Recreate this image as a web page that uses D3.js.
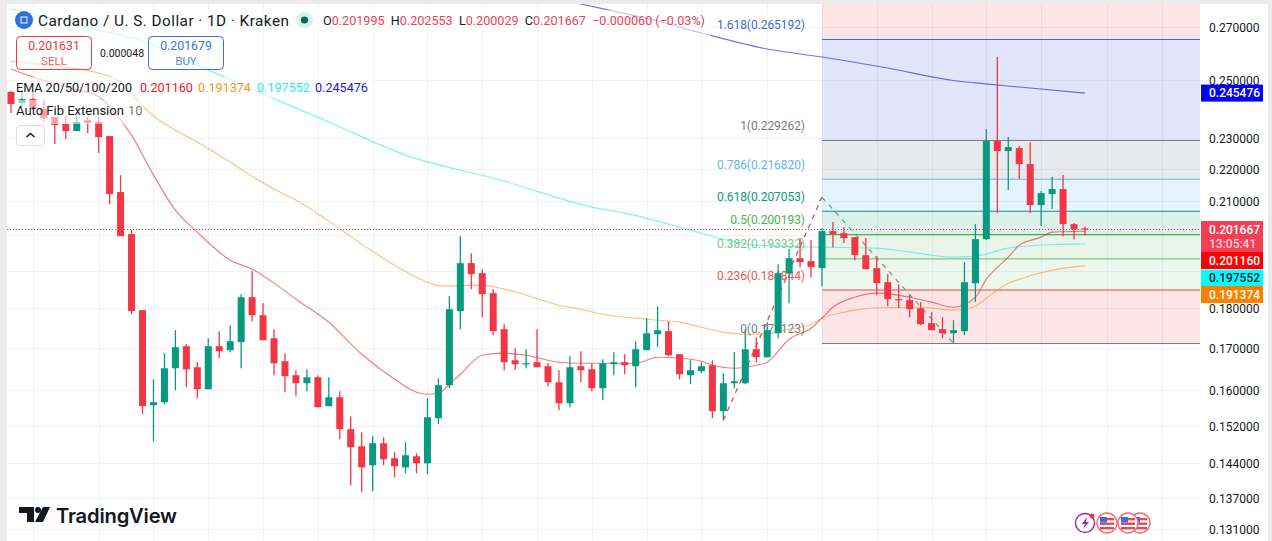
<!DOCTYPE html>
<html><head><meta charset="utf-8">
<script src="https://cdnjs.cloudflare.com/ajax/libs/d3/7.8.5/d3.min.js"></script>
<style>html,body{margin:0;padding:0;background:#ebebeb;overflow:hidden}svg{display:block}text{font-family:Roboto,sans-serif}</style>
</head><body><svg id="c" width="1272" height="541"></svg>
<script>
const opens=[.24586,.24199,.24338,.2399,.23714,.23477,.23241,.23612,.23545,.23074,.21284,.20034,.17955,.15657,.15725,.16514,.17047,.16538,.16022,.17047,.16949,.17146,.18294,.17826,.17244,.16682,.16348,.16161,.16301,.15635,.15838,.15125,.14758,.1436,.14823,.14505,.14318,.14547,.14401,.15366,.16115,.17929,.19214,.18939,.184,.1747,.16706,.1661,.16658,.16562,.16184,.15702,.16562,.1649,.16045,.1661,.16658,.16562,.16949,.17344,.1742,.16851,.16348,.16443,.16586,.15522,.16161,.16161,.16973,.16778,.17369,.18939,.19352,.1927,.19076,.20121,.20063,.19947,.19436,.19076,.18694,.18242,.18216,.18006,.17622,.1747,.17369,.1742,.18668,.1989,.22908,.2258,.22678,.22161,.20889,.21223,.21377,.20325,.201995];
const highs=[.24621,.24657,.24586,.24303,.23714,.23749,.23749,.23714,.23714,.23074,.21812,.2015,.17955,.16254,.16876,.17445,.17096,.16658,.17244,.1742,.17571,.18374,.18993,.18137,.1747,.16876,.16467,.1649,.16348,.16301,.15976,.1541,.1506,.14973,.14951,.14632,.14844,.14611,.15815,.16278,.18321,.19976,.19493,.19048,.18507,.17596,.16998,.16973,.1747,.16634,.16467,.16802,.16924,.16634,.1673,.169,.16851,.1717,.17749,.18058,.17672,.16851,.16706,.16658,.16706,.16396,.169,.1747,.17269,.17647,.19186,.19606,.19919,.19862,.20208,.20384,.20237,.19947,.19919,.19408,.18911,.18641,.18347,.18163,.17903,.17774,.17698,.19242,.20325,.23308,.25857,.2304,.22743,.22875,.21315,.21749,.21812,.20355,.202553];
const lows=[.23852,.24025,.23955,.23545,.22809,.22974,.23241,.23174,.22515,.2092,.19976,.17851,.15455,.14865,.1568,.15999,.16068,.15815,.16022,.16754,.169,.16514,.17672,.17195,.16348,.15953,.15861,.15976,.15612,.15635,.14908,.13951,.13811,.13831,.1436,.14113,.14195,.14195,.14174,.15234,.16045,.1747,.18507,.17774,.17319,.16467,.16467,.16514,.16538,.16091,.15545,.15612,.16184,.15976,.1577,.16348,.16372,.16068,.16949,.17022,.16802,.16254,.16138,.16396,.15366,.15322,.16045,.16138,.16658,.16778,.17244,.18137,.19103,.18829,.18587,.19662,.19776,.19297,.19048,.18347,.18058,.18006,.17774,.17571,.17445,.17244,.17121,.17319,.18163,.19862,.2065,.21346,.21687,.2065,.20267,.2077,.19976,.1989,.200029];
const closes=[.24164,.24338,.2399,.2368,.23443,.23241,.23545,.23511,.2304,.21223,.19976,.17929,.15635,.15725,.16514,.17022,.1649,.16022,.17047,.16924,.1717,.18294,.17826,.17195,.16634,.16325,.16161,.16301,.15612,.15838,.15125,.14737,.14318,.14823,.14484,.14339,.14568,.14401,.15388,.16115,.1798,.19214,.18911,.18374,.1742,.16658,.1661,.16634,.16538,.16184,.15702,.16538,.16467,.16045,.16634,.16658,.16586,.16973,.17369,.17445,.16827,.16372,.16467,.16562,.15522,.16161,.16208,.16973,.16778,.17445,.18939,.19352,.19242,.19103,.20121,.20034,.19919,.19436,.19048,.18668,.18242,.18216,.1798,.17596,.17445,.17369,.17445,.18694,.1989,.22908,.2258,.2271,.22161,.20889,.21254,.21377,.20325,.201727,.201667];

const ema20Idx=[0,2,5,8,9,11,13,15,17,20,22,24,26,29,32,35,37,38,39,40,41,43,45,47,50,52,54,57,59,61,63,64,66,68,69,71,73,74,75,77,79,82,84,86,88,89,91,92,94,95,98];
const ema20=[.25414,.25122,.24763,.24425,.24059,.23107,.21812,.2074,.20092,.19297,.19048,.18668,.18242,.17647,.16851,.16254,.15953,.15907,.1593,.16138,.16372,.16827,.16876,.16827,.16658,.16634,.16634,.16634,.16778,.16754,.16682,.16586,.16514,.16586,.16658,.1722,.17495,.17749,.18032,.18294,.184,.18294,.18163,.18032,.18294,.18775,.1938,.19719,.19947,.20092,.20116];
const ema50Idx=[0,4,8,10,11,13,15,17,20,22,24,26,29,32,35,37,38,39,40,41,43,45,47,50,52,54,57,59,61,63,65,67,69,71,73,74,76,77,79,83,86,87,88,89,91,92,95,98];
const ema50=[.25689,.25524,.25268,.24942,.24514,.23749,.23274,.22875,.22225,.2178,.21377,.2104,.20413,.19747,.19158,.18829,.18694,.186,.18587,.186,.18614,.18507,.18347,.18084,.1798,.17851,.17749,.17698,.17647,.1752,.17395,.17344,.17357,.1747,.17596,.17749,.17903,.17955,.18019,.18032,.17955,.1798,.18058,.18268,.18668,.18775,.19021,.191374];
const ema100Idx=[0,4,8,12,18,23,29,36,45,50,53,56,62,65,68,74,79,82,86,88,91,94,98];
const ema100=[.2771,.27313,.26883,.26462,.25377,.24514,.23545,.2245,.21625,.211,.20829,.2065,.2015,.1989,.19719,.19662,.19634,.19521,.1938,.19408,.19634,.19719,.197552];
const ema200Idx=[50,52,56,59,63,69,74,76,80,86,88,92,98];
const ema200=[.28112,.2791,.2753,.27234,.26768,.26157,.25857,.25727,.25451,.24999,.2491,.24763,.245476];

const fibRatios=[1.618,1,.786,.618,.5,.382,.236,0];
const fibPrices=[.265192,.229262,.21682,.207053,.200193,.193332,.184844,.171123];
const fibLabels=["1.618(0.265192)","1(0.229262)","0.786(0.216820)","0.618(0.207053)","0.5(0.200193)","0.382(0.193332)","0.236(0.184844)","0(0.171123)"];
const fibLine=["#3f6ad8","#787b86","#64b5f6","#089981","#4caf50","#81c784","#e5483f","#787b86"];
const fibText=["#3f6ad8","#787b86","#64b5f6","#089981","#4caf50","#81c784","#f2544f","#787b86"];
const fibFill=["rgba(63,90,220,.15)","rgba(120,123,134,.17)","rgba(100,181,246,.17)","rgba(8,153,129,.14)","rgba(76,175,80,.12)","rgba(129,199,132,.15)","rgba(242,54,69,.13)"];
const fibTopFill="rgba(242,54,69,.13)";
const fibStart=74;
const zigIdx=[65,74,86];
const zigPrice=[.15322,.21131,.17121];

const priceTicks=[.27,.25,.23,.22,.21,.18,.17,.16,.152,.144,.137,.131];
const gridPrices=[.27,.25,.23,.22,.21,.2,.19,.18,.17,.16,.152,.144,.137,.131];
const gridIdx=[2,8,13,18,23,28,33,38,43,48,53,58,63,69,74,79,84,89,94,100,105];
const lastPrice=.201667;
const badges=[
 {p:.245476,t:"0.245476",bg:"#0000ff",fg:"#fff"},
 {p:.20116,t:"0.201160",bg:"#ff0000",fg:"#fff"},
 {p:.197552,t:"0.197552",bg:"#00ffff",fg:"#131722"},
 {p:.191374,t:"0.191374",bg:"#ff7f00",fg:"#fff"}];

const svg=d3.select("#c");
const up="#089981",dn="#f23645";
const plotL=7,plotR=1200,plotT=4,plotB=541,axisR=1268;
const x=d3.scaleLinear().domain([0,98]).range([11,1085]);
const y=d3.scaleLog().domain([.27,.131]).range([27,529]);

svg.append("rect").attr("x",plotL).attr("y",plotT).attr("width",axisR-plotL).attr("height",plotB-plotT).attr("fill","#fff");
svg.append("defs").append("clipPath").attr("id","clip").append("rect").attr("x",plotL).attr("y",plotT).attr("width",plotR-plotL).attr("height",plotB-plotT);
const plot=svg.append("g").attr("clip-path","url(#clip)");

// grid
const grid=plot.append("g").attr("stroke","#f0f1f3").attr("stroke-width",1);
gridIdx.forEach(i=>{const X=Math.round(x(i))+.5;grid.append("line").attr("x1",X).attr("x2",X).attr("y1",plotT).attr("y2",plotB)});
gridPrices.forEach(p=>{const Y=Math.round(y(p))+.5;grid.append("line").attr("x1",plotL).attr("x2",plotR).attr("y1",Y).attr("y2",Y)});

// fib
const fx=x(fibStart);
plot.append("rect").attr("x",fx).attr("y",plotT).attr("width",plotR-fx).attr("height",y(fibPrices[0])-plotT).attr("fill",fibTopFill);
fibFill.forEach((c,i)=>plot.append("rect").attr("x",fx).attr("y",y(fibPrices[i])).attr("width",plotR-fx).attr("height",y(fibPrices[i+1])-y(fibPrices[i])).attr("fill",c));
fibPrices.forEach((p,i)=>{
 plot.append("line").attr("x1",fx).attr("x2",plotR).attr("y1",y(p)).attr("y2",y(p)).attr("stroke",fibLine[i]).attr("stroke-width",1.1);
 plot.append("text").attr("x",805).attr("y",y(p)-10.5).attr("text-anchor","end").attr("font-size",12).attr("letter-spacing","-.05").attr("fill",fibText[i]).text(fibLabels[i]);
});

// zigzag
const zl=(a,b,c)=>plot.append("line").attr("x1",x(zigIdx[a])).attr("y1",y(zigPrice[a])).attr("x2",x(zigIdx[b])).attr("y2",y(zigPrice[b])).attr("stroke",c).attr("stroke-width",1.2).attr("stroke-dasharray","5 5");
zl(0,1,"#d8405a");zl(1,2,"#5fa873");
const tipX=x(zigIdx[1]),tipY=y(zigPrice[1]);
plot.append("path").attr("d",`M${tipX-3},${tipY+4}L${tipX},${tipY}L${tipX+3},${tipY+4}`).attr("fill","none").attr("stroke","#5fa873").attr("stroke-width",1);

// EMAs
const lineOf=(idx,vals,col,op)=>plot.append("path")
 .attr("d",d3.line().x(d=>x(d[0])).y(d=>y(d[1])).curve(d3.curveMonotoneX)(d3.zip(idx,vals)))
 .attr("fill","none").attr("stroke",col).attr("stroke-opacity",op).attr("stroke-width",1.15);
lineOf(ema200Idx,ema200,"#0000d8",.55);
lineOf(ema100Idx,ema100,"#00e8e8",.5);
lineOf(ema50Idx,ema50,"#ff8000",.5);
lineOf(ema20Idx,ema20,"#e8100a",.55);

// candles
const gc=plot.append("g");
opens.forEach((o,i)=>{
 const c=closes[i],col=c>=o?up:dn,X=x(i);
 gc.append("line").attr("x1",X).attr("x2",X).attr("y1",y(highs[i])).attr("y2",y(lows[i])).attr("stroke",col).attr("stroke-width",1.3);
 const t=y(Math.max(o,c)),b=y(Math.min(o,c));
 gc.append("rect").attr("x",X-3.5).attr("width",7).attr("y",t).attr("height",Math.max(b-t,1.2)).attr("fill",col);
});

// last price dotted
const lastY=Math.floor(y(lastPrice))+.5;
svg.append("line").attr("x1",plotL).attr("x2",plotR).attr("y1",lastY).attr("y2",lastY).attr("stroke","#d9435e").attr("stroke-width",1).attr("stroke-dasharray","1 2");

// axis
svg.append("rect").attr("x",plotR).attr("y",plotT).attr("width",axisR-plotR).attr("height",plotB-plotT).attr("fill","#fff");
const ax=svg.append("g").attr("transform",`translate(1209,0)`).call(d3.axisRight(y).tickValues(priceTicks).tickFormat(d3.format(".6f")).tickSize(0).tickPadding(0));
ax.select(".domain").remove();
ax.selectAll("text").attr("font-size",12).attr("fill","#131722").style("font-family","Roboto,sans-serif").attr("dy","0.36em");

const badge=(Y,h,bg)=>svg.append("rect").attr("x",1201).attr("y",Y).attr("width",62).attr("height",h).attr("fill",bg);
const btxt=(Y,t,fg)=>svg.append("text").attr("x",1209).attr("y",Y).attr("font-size",12).attr("font-weight",500).attr("fill",fg).text(t);
badge(221,31.2,"#f23f55");
btxt(y(lastPrice)+4.5,"0.201667","#fff");
btxt(y(lastPrice)+18,"13:05:41","#fbd3d8");
const badgeCentres=[y(.245476),260.5,278,294.5];
badges.forEach((b,i)=>{
 const Yc=badgeCentres[i];
 badge(Yc-8.5,17,b.bg);btxt(Yc+4.3,b.t,b.fg);
});

// legend veil
const veil=[[15,10,695,26],[15,36,210,34],[15,77,358,21],[15,100,128,24]];
veil.forEach(v=>svg.append("rect").attr("x",v[0]).attr("y",v[1]).attr("width",v[2]).attr("height",v[3]).attr("fill","rgba(255,255,255,.55)"));

// header
svg.append("circle").attr("cx",24).attr("cy",20).attr("r",9).attr("fill","#2f6fd6");
svg.append("rect").attr("x",21).attr("y",17).attr("width",6).attr("height",6).attr("fill","none").attr("stroke","#cfe0fb").attr("stroke-width",1.2);
svg.append("text").attr("x",38).attr("y",25.5).attr("font-size",15.3).attr("fill","#131722").attr("letter-spacing",".47").text("Cardano / U. S. Dollar · 1D · Kraken");
svg.append("circle").attr("cx",304.5).attr("cy",20).attr("r",8.5).attr("fill","#dcefea");
svg.append("circle").attr("cx",304.5).attr("cy",20).attr("r",3.6).attr("fill","#00695c");
const hdr=svg.append("text").attr("x",323).attr("y",25).attr("font-size",12.6).attr("letter-spacing","0");
[["O","#131722"],["0.201995  ","#ef4058"],["H","#131722"],["0.202553  ","#ef4058"],["L","#131722"],["0.200029  ","#ef4058"],["C","#131722"],["0.201667  −0.000060 (−0.03%)","#ef4058"]]
 .forEach(s=>hdr.append("tspan").attr("fill",s[1]).style("white-space","pre").text(s[0]));
hdr.style("white-space","pre");

const box=(bx,col,a,b)=>{
 svg.append("rect").attr("x",bx+.5).attr("y",36.5).attr("width",75).attr("height",33).attr("rx",4).attr("fill","none").attr("stroke",col);
 svg.append("text").attr("x",bx+38).attr("y",50).attr("text-anchor","middle").attr("font-size",12.3).attr("fill",col).text(a);
 svg.append("text").attr("x",bx+38).attr("y",64.5).attr("text-anchor","middle").attr("font-size",11.5).attr("fill",col).attr("fill-opacity",.85).text(b);
};
box(16,"#f23645","0.201631","SELL");
box(148,"#3b6fe0","0.201679","BUY");
svg.append("text").attr("x",100).attr("y",56.5).attr("font-size",10.5).attr("fill","#131722").text("0.000048");

svg.append("text").attr("x",16).attr("y",91.5).attr("font-size",12.6).attr("fill","#131722").text("EMA 20/50/100/200");
[[140,"0.201160","#e8201c"],[198,"0.191374","#f7941d"],[257,"0.197552","#22e9f5"],[315,"0.245476","#2419d1"]]
 .forEach(e=>svg.append("text").attr("x",e[0]).attr("y",91.5).attr("font-size",12.6).attr("fill",e[2]).text(e[1]));
svg.append("text").attr("x",16).attr("y",115).attr("font-size",13).attr("fill","#131722").text("Auto Fib Extension");
svg.append("text").attr("x",128).attr("y",115).attr("font-size",13).attr("fill","#787b86").text("10");
svg.append("rect").attr("x",16.5).attr("y",125.5).attr("width",28).attr("height",20).attr("rx",3).attr("fill","#fff").attr("stroke","#dcdde0");
svg.append("path").attr("d","M26.5,137L30.5,133.5L34.5,137").attr("fill","none").attr("stroke","#131722").attr("stroke-width",1.5);

// logo
svg.append("path").attr("fill","#131722").attr("d","M19,507H34V522H27V513H19Z");
svg.append("circle").attr("fill","#131722").attr("cx",38).attr("cy",510).attr("r",3);
svg.append("path").attr("fill","#131722").attr("d","M43,507H50L43,522H35Z");
svg.append("text").attr("x",56).attr("y",522.5).attr("font-size",20.2).attr("font-weight",600).attr("fill","#131722").style("font-family","Inter,sans-serif").attr("letter-spacing","-.2").text("TradingView");

// bottom icons
const flag=(cx)=>{
 const g=svg.append("g");
 g.append("circle").attr("cx",cx).attr("cy",523).attr("r",10).attr("fill","#fff").attr("stroke","#ef6a76").attr("stroke-width",1.4);
 g.append("circle").attr("cx",cx).attr("cy",523).attr("r",7).attr("fill","#fff");
 [518,522.5,527].forEach(Y=>g.append("rect").attr("x",cx-7).attr("y",Y).attr("width",14).attr("height",2.4).attr("fill","#e04a52"));
 g.append("rect").attr("x",cx-7).attr("y",517).attr("width",7).attr("height",5.5).attr("fill","#3f6fd0");
};
flag(1140);flag(1128);flag(1107);
svg.append("circle").attr("cx",1085).attr("cy",523).attr("r",9.5).attr("fill","#fff").attr("stroke","#9c27b0").attr("stroke-width",1.4);
svg.append("path").attr("d","M1087,517L1082,524H1085L1083,529L1089,522H1086Z").attr("fill","#9c27b0");
svg.append("circle").attr("cx",1092).attr("cy",516).attr("r",2.5).attr("fill","#f23645");
</script></body></html>
